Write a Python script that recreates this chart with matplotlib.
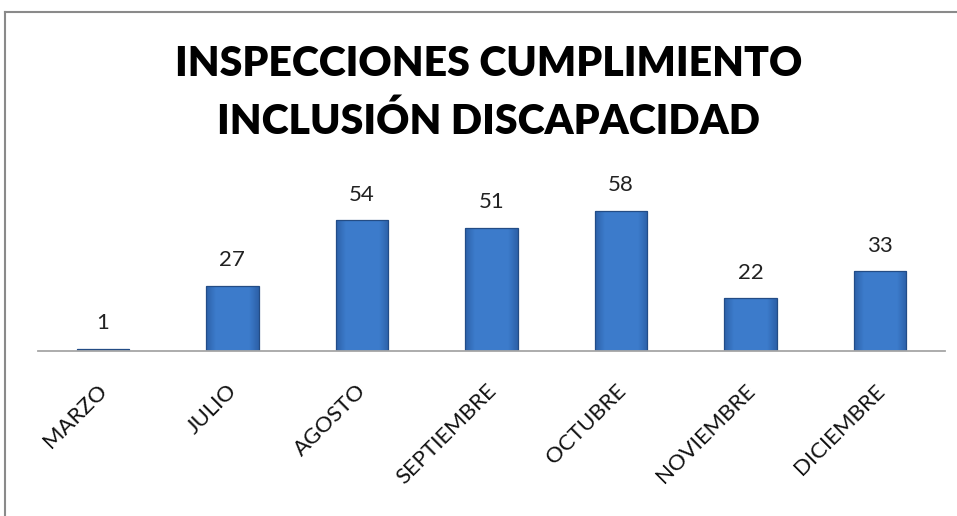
import matplotlib
matplotlib.use("Agg")
import matplotlib.pyplot as plt
import numpy as np
from matplotlib.lines import Line2D

categories = ["MARZO", "JULIO", "AGOSTO", "SEPTIEMBRE", "OCTUBRE", "NOVIEMBRE", "DICIEMBRE"]
values = [1, 27, 54, 51, 58, 22, 33]
title_lines = ["INSPECCIONES CUMPLIMIENTO", "INCLUSIÓN DISCAPACIDAD"]

W, H = 957, 516
fig = plt.figure(figsize=(W / 100, H / 100), dpi=100)
fig.patch.set_facecolor("white")

# outer chart frame (top and left visible)
fig.add_artist(Line2D([5 / W, 1.0], [1 - 12 / H, 1 - 12 / H], color="#8a8a8a", lw=1.5))
fig.add_artist(Line2D([5 / W, 5 / W], [0, 1 - 12 / H], color="#8a8a8a", lw=1.5))

ax = fig.add_axes([38 / W, 1 - 351 / H, (945 - 38) / W, (351 - 160) / H])
x = np.arange(len(categories))
bars = ax.bar(x, values, width=0.405, color="#3C7BCB", edgecolor="#244C84", linewidth=0.9, zorder=3)

# bevel-like gradient on bars
n = 64
t = np.linspace(0, 1, n)
edge = np.clip(1 - np.minimum(t, 1 - t) / 0.18, 0, 1)
for b in bars:
    x0, y0 = b.get_x(), b.get_y()
    w, h = b.get_width(), b.get_height()
    g = np.zeros((2, n, 4))
    g[..., 0] = 0.13
    g[..., 1] = 0.30
    g[..., 2] = 0.55
    g[..., 3] = (0.55 * edge)[None, :]
    im = ax.imshow(g, extent=[x0, x0 + w, y0, y0 + h], aspect="auto", zorder=4, interpolation="bilinear")
    im.set_clip_path(b)

ax.set_xlim(-0.5, len(categories) - 0.5)
ax.set_ylim(0, 79)
for s in ["top", "right", "left"]:
    ax.spines[s].set_visible(False)
ax.spines["bottom"].set_color("#a6a6a6")
ax.spines["bottom"].set_linewidth(1.3)
ax.spines["bottom"].set_zorder(5)
ax.set_yticks([])
ax.set_xticks(x)
ax.set_xticklabels([])
ax.tick_params(axis="x", length=0)

for xi, v in zip(x, values):
    ax.annotate(str(v), (xi, v), xytext=(0, 11), textcoords="offset points",
                ha="center", va="bottom", fontsize=16, family="Lato", color="#222222")

for xi, c in zip(x, categories):
    ax.text(xi + 0.01, -37 / 191, c, transform=ax.get_xaxis_transform(),
            rotation=45, rotation_mode="anchor", ha="right", va="center",
            fontsize=16, family="Lato", color="#111111")

fig.text(489 / W, 1 - 64 / H, title_lines[0], ha="center", va="center",
         fontsize=29.5, fontweight="heavy", family="Lato")
fig.text(488 / W, 1 - 121 / H, title_lines[1], ha="center", va="center",
         fontsize=29.5, fontweight="heavy", family="Lato")

fig.savefig("out.png", dpi=100)
